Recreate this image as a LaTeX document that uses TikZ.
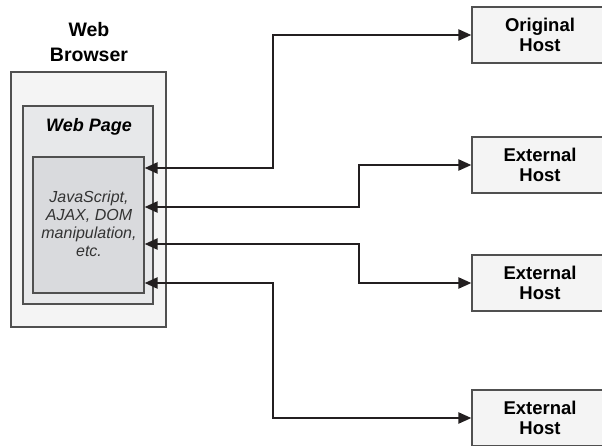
\documentclass[tikz,border=0pt]{standalone}
\usepackage{fontspec}
\setmainfont{Liberation Sans}
\usetikzlibrary{arrows.meta}
\definecolor{edge}{HTML}{505050}
\definecolor{ink}{HTML}{231F20}
\definecolor{paleA}{HTML}{F4F4F4}
\definecolor{paleB}{HTML}{E7E8EA}
\definecolor{paleC}{HTML}{D9DADD}
\definecolor{soft}{HTML}{333333}
\tikzset{
  panel/.style={draw=edge, line width=1.2pt, rectangle, inner sep=0pt},
  hostbox/.style={panel, fill=paleA, minimum width=136pt, minimum height=56pt,
    font=\fontsize{18.5}{20}\selectfont\bfseries, align=center},
  dbl/.style={draw=ink, line width=2.2pt, {Triangle[length=13pt,width=11pt]}-{Triangle[length=13pt,width=11pt]}},
}
\begin{document}
\begin{tikzpicture}[x=1pt,y=-1pt]
\useasboundingbox (0,0) rectangle (602,445);
\clip (0,0) rectangle (602,445);

% browser frame, page and script area
\node[panel, fill=paleA, minimum width=155pt, minimum height=255pt] (browser) at (88.5,199.5) {};
\node[panel, fill=paleB, minimum width=130pt, minimum height=198pt] (page) at (88,205) {};
\node[panel, fill=paleC, minimum width=111pt, minimum height=136pt] (js) at (88.5,225) {};

\node[font=\fontsize{19.5}{25}\selectfont\bfseries, align=center] (title) at (89,42) {Web\\Browser};
\node[font=\fontsize{18}{20}\selectfont\bfseries\itshape] (pagelabel) at (89,127) {Web Page};
\node[font=\fontsize{16}{18}\selectfont\itshape, text=soft, align=center] (jstext) at (89,224) {JavaScript,\\AJAX, DOM\\manipulation,\\etc.};

% hosts
\node[hostbox] (h0) at (540,35) {Original\\Host};
\node[hostbox] (h1) at (540,165) {External\\Host};
\node[hostbox] (h2) at (540,283) {External\\Host};
\node[hostbox] (h3) at (540,418) {External\\Host};

% request/response links
\draw[dbl] (js.east |- 0,168) -| (273,35) -- (h0.west);
\draw[dbl] (js.east |- 0,207) -| (359,165) -- (h1.west);
\draw[dbl] (js.east |- 0,244) -| (359,283) -- (h2.west);
\draw[dbl] (js.east |- 0,283) -| (273,418) -- (h3.west);
\end{tikzpicture}
\end{document}
